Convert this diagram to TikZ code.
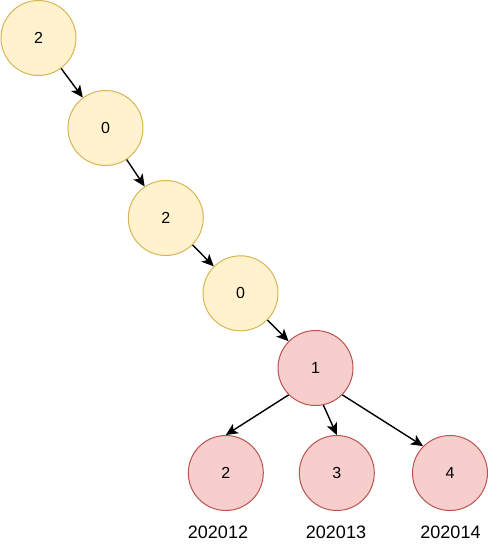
\documentclass[tikz,border=0pt]{standalone}
\usepackage{fontspec}
\setmainfont{Liberation Sans}
\usetikzlibrary{arrows.meta}
\definecolor{yfill}{HTML}{FFF2CC}
\definecolor{ydraw}{HTML}{D6B656}
\definecolor{rfill}{HTML}{F8CECC}
\definecolor{rdraw}{HTML}{B85450}
\tikzset{
  ynode/.style={circle, draw=ydraw, fill=yfill, line width=1pt, minimum size=75pt, inner sep=0pt, font=\fontsize{16}{19}\selectfont},
  rnode/.style={circle, draw=rdraw, fill=rfill, line width=1pt, minimum size=75pt, inner sep=0pt, font=\fontsize{16}{19}\selectfont},
  lbl/.style={font=\fontsize{18}{21}\selectfont, inner sep=0pt},
  arr/.style={line width=1.4pt, -{Stealth[length=12pt,width=11pt,inset=3pt]}}
}
\begin{document}
\begin{tikzpicture}[x=1pt,y=-1pt]
\useasboundingbox (0,0) rectangle (498,551);
\node[ynode] (a) at (38.5,38) {2};
\node[ynode] (b) at (105.5,128) {0};
\node[ynode] (c) at (165.8,218) {2};
\node[ynode] (d) at (240.5,293.3) {0};
\node[rnode] (e) at (315.5,368) {1};
\node[rnode] (f) at (225.8,473) {2};
\node[rnode] (g) at (336.8,473) {3};
\node[rnode] (h) at (450,473) {4};
\node[lbl] (lf) at (218,532) {202012};
\node[lbl] (lg) at (336,532) {202013};
\node[lbl] (lh) at (450.5,532) {202014};
\draw[arr] (a) -- (b);
\draw[arr] (b) -- (c);
\draw[arr] (c) -- (d);
\draw[arr] (d) -- (e);
\draw[arr] (e.225) -- (f.north);
\draw[arr] (e.-78) -- (g.north);
\draw[arr] (e.-45) -- (h.135);
\end{tikzpicture}
\end{document}
